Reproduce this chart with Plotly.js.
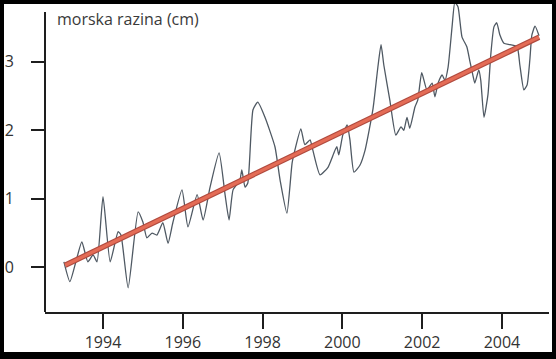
<!DOCTYPE html>
<html>
<head>
<meta charset="utf-8">
<script src="https://cdn.plot.ly/plotly-3.0.1.min.js"></script>
<style>
  html, body { margin: 0; padding: 0; background: #000; width: 556px; height: 359px; overflow: hidden; }
  #chart { position: absolute; left: 4px; top: 4px; width: 548px; height: 348px; background: #fff; }
</style>
</head>
<body>
<div id="chart"></div>
<script>
// Sea level anomaly (cm)
const years = [
  1993.02, 1993.17, 1993.32, 1993.47, 1993.62, 1993.75, 1993.85, 1994.00, 1994.18, 1994.38,
  1994.45, 1994.63, 1994.88, 1995.00, 1995.10, 1995.23, 1995.35, 1995.50, 1995.63, 1995.75,
  1995.98, 1996.13, 1996.36, 1996.51, 1996.68, 1996.91, 1997.06, 1997.16, 1997.26, 1997.43,
  1997.48, 1997.56, 1997.63, 1997.76, 1997.88, 1998.06, 1998.31, 1998.44, 1998.61, 1998.74,
  1998.81, 1998.96, 1999.06, 1999.19, 1999.26, 1999.44, 1999.64, 1999.86, 1999.91, 2000.01,
  2000.12, 2000.19, 2000.29, 2000.44, 2000.57, 2000.77, 2000.89, 2000.97, 2001.04, 2001.19,
  2001.34, 2001.47, 2001.54, 2001.62, 2001.69, 2001.82, 2001.89, 2001.99, 2002.12, 2002.25,
  2002.32, 2002.40, 2002.50, 2002.57, 2002.65, 2002.75, 2002.82, 2002.90, 2003.00, 2003.12,
  2003.20, 2003.27, 2003.32, 2003.42, 2003.47, 2003.55, 2003.65, 2003.72, 2003.80, 2003.87,
  2003.95, 2004.05, 2004.20, 2004.38, 2004.45, 2004.55, 2004.63, 2004.70, 2004.75, 2004.83,
  2004.93
];
const seaLevel = [
  0.08, -0.21, 0.08, 0.37, 0.08, 0.18, 0.08, 1.03, 0.08, 0.52,
  0.47, -0.30, 0.81, 0.66, 0.43, 0.50, 0.47, 0.65, 0.35, 0.65,
  1.13, 0.59, 1.06, 0.69, 1.16, 1.67, 1.06, 0.69, 1.13, 1.27,
  1.42, 1.17, 1.23, 2.30, 2.41, 2.19, 1.76, 1.27, 0.79, 1.52,
  1.71, 2.02, 1.79, 1.86, 1.71, 1.35, 1.46, 1.76, 1.64, 1.93,
  2.08, 1.86, 1.39, 1.49, 1.71, 2.32, 2.92, 3.25, 2.95, 2.44,
  1.93, 2.05, 2.00, 2.19, 2.03, 2.34, 2.44, 2.84, 2.59, 2.69,
  2.49, 2.69, 2.81, 2.73, 2.92, 3.51, 3.87, 3.80, 3.36, 3.22,
  3.00, 2.81, 2.69, 2.88, 2.73, 2.19, 2.52, 3.10, 3.51, 3.57,
  3.39, 3.27, 3.25, 3.22, 2.95, 2.59, 2.66, 3.03, 3.39, 3.52,
  3.38
];
// Linear trend
const trendYears = [1993.05, 2004.93];
const trendValues = [0.03, 3.36];

const xTickVals = [1994, 1996, 1998, 2000, 2002, 2004];
const xTickText = ['1994', '1996', '1998', '2000', '2002', '2004'];
const yTickVals = [0, 1, 2, 3];
const yTickText = ['0', '1', '2', '3'];
const yLabel = 'morska razina (cm)';

const fontFam = 'Open Sans, Noto Sans, sans-serif';
const axisColor = '#1e1e1e';

const traces = [
  {
    x: years, y: seaLevel, type: 'scatter', mode: 'lines',
    line: { color: '#4f5963', width: 1.3, shape: 'spline', smoothing: 0.5 },
    hoverinfo: 'skip', showlegend: false
  },
  {
    x: trendYears, y: trendValues, type: 'scatter', mode: 'lines',
    line: { color: '#b04a3e', width: 5.5 },
    hoverinfo: 'skip', showlegend: false
  },
  {
    x: trendYears, y: trendValues, type: 'scatter', mode: 'lines',
    line: { color: '#e46c56', width: 3.2 },
    hoverinfo: 'skip', showlegend: false
  }
];

const layout = {
  width: 548, height: 348, autosize: false,
  margin: { l: 41, r: 3, t: 0, b: 40, pad: 0 },
  paper_bgcolor: '#ffffff', plot_bgcolor: '#ffffff',
  font: { family: fontFam, color: '#333333', size: 16 },
  showlegend: false,
  xaxis: {
    range: [1992.546, 2005.18],
    tickmode: 'array', tickvals: xTickVals, ticktext: xTickText,
    ticks: 'outside', ticklen: 15, tickwidth: 2, tickcolor: axisColor,
    ticklabelstandoff: 0,
    showline: true, linewidth: 2, linecolor: axisColor,
    showgrid: false, zeroline: false,
    tickfont: { family: fontFam, size: 16, color: '#333333' }
  },
  yaxis: {
    range: [-0.653, 3.844],
    tickmode: 'array', tickvals: yTickVals, ticktext: yTickText,
    ticks: 'outside', ticklen: 13, tickwidth: 2, tickcolor: axisColor,
    ticklabelstandoff: 14,
    showline: false, showgrid: false, zeroline: false,
    tickfont: { family: fontFam, size: 16, color: '#333333' }
  },
  shapes: [
    {
      type: 'line', xref: 'paper', yref: 'y',
      x0: 0, x1: 0, y0: -0.653, y1: 3.727,
      line: { color: axisColor, width: 2 }
    }
  ],
  annotations: [
    {
      text: yLabel, xref: 'paper', yref: 'paper',
      x: 0.0198, y: 0.951, xanchor: 'left', yanchor: 'middle',
      showarrow: false,
      font: { family: fontFam, size: 16, color: '#3a3a3a' }
    }
  ]
};

Plotly.newPlot('chart', traces, layout, { staticPlot: true, displayModeBar: false });
</script>
</body>
</html>
